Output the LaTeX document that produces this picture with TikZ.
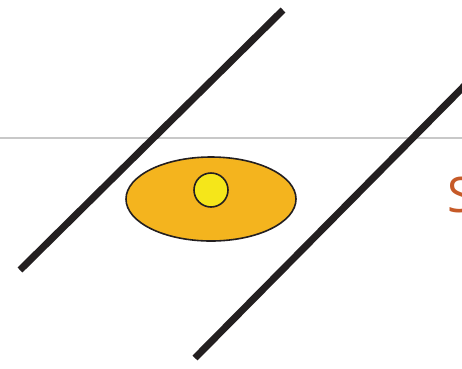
\documentclass[tikz,border=0pt]{standalone}
\usepackage{fontspec}
\setmainfont{Open Sans}
\usetikzlibrary{shapes.geometric}
\definecolor{lineblk}{HTML}{231F20}
\definecolor{ellfill}{HTML}{F4B41E}
\definecolor{dotfill}{HTML}{F5E61A}
\definecolor{txtorange}{HTML}{C65A28}
\definecolor{rulegray}{HTML}{C8C8C8}
\tikzset{
  bar/.style={draw=lineblk, line width=7pt, line cap=butt},
  outl/.style={draw=lineblk, line width=1.6pt},
}
\begin{document}
\begin{tikzpicture}[x=1pt,y=-1pt]
\useasboundingbox (0,0) rectangle (462,368);
\clip (0,0) rectangle (462,368);
\fill[white] (0,0) rectangle (462,368);
\coordinate (g1) at (0,138);
\coordinate (g2) at (462,138);
\draw[rulegray, line width=2pt] (g1) -- (g2);
\coordinate (a1) at (20,270);
\coordinate (a2) at (283,10);
\draw[bar] (a1) -- (a2);
\coordinate (b1) at (195,358);
\coordinate (b2) at (480,70);
\draw[bar] (b1) -- (b2);
\node[outl, fill=ellfill, ellipse, minimum width=170pt, minimum height=84pt, inner sep=0pt] (ell) at (211,199) {};
\node[outl, fill=dotfill, circle, minimum size=34pt, inner sep=0pt] (dot) at (211,190) {};
\node[anchor=west, text=txtorange, font=\fontsize{49}{58}\selectfont, inner sep=0pt] (s) at (447,195) {S};
\end{tikzpicture}
\end{document}
